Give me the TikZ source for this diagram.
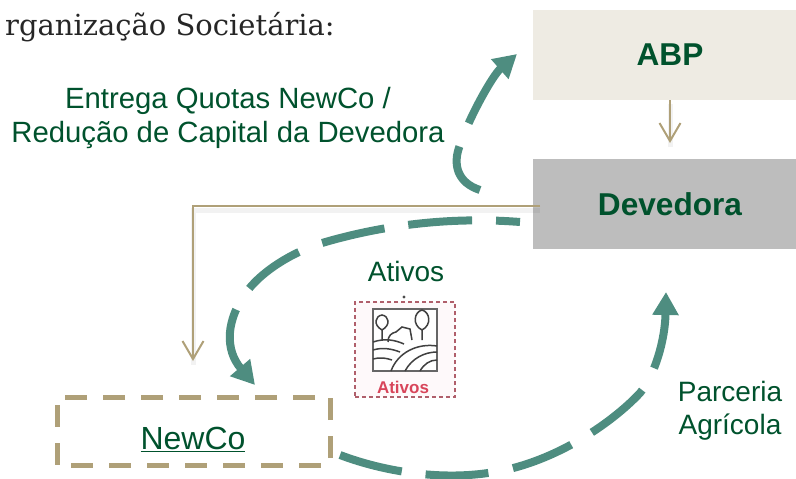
\documentclass[tikz,border=0pt]{standalone}
\usepackage{fontspec}
\setmainfont{Liberation Sans}
\newfontfamily\titlefont{DejaVu Serif}
\usetikzlibrary{arrows.meta}
\definecolor{tealarc}{HTML}{4E8D80}
\definecolor{tanline}{HTML}{AFA078}
\definecolor{darkgreen}{HTML}{00522D}
\definecolor{abpfill}{HTML}{EEEBE3}
\definecolor{devfill}{HTML}{BDBDBD}
\definecolor{iconred}{HTML}{D8455A}
\begin{document}
\begin{tikzpicture}
			[x=1pt,y=-1pt,
			 box/.style={minimum width=263pt,minimum height=90pt,inner sep=0,font=\fontsize{31.6}{36}\selectfont\bfseries,text=darkgreen},
			 textlabel/.style={inner sep=0,align=center,text=darkgreen,font=\fontsize{29.3}{34}\selectfont},
			 flow/.style={draw=tealarc,line width=8pt,-{Triangle[length=23pt,width=25pt]}},
			 thin tan/.style={draw=tanline,line width=2pt,-{Straight Barb[length=18pt,width=21pt]},
			   preaction={draw=black,opacity=0.05,line width=5pt,-,transform canvas={yshift=-4pt}}},
			 icon line/.style={draw=black!75,line width=1.5pt}]
			\useasboundingbox (0,0) rectangle (796,479);
			\node (title) [anchor=west,inner sep=0,font=\titlefont\fontsize{29}{34}\selectfont,text=black!85] at (5,27) {rganização Societária:};
			\node (abp) [box,fill=abpfill] at (664.5,55) {\hspace*{11pt}ABP};
			\node (devedora) [box,fill=devfill] at (664.5,204) {\hspace*{11pt}Devedora};
			\node (newco) [minimum width=273pt,minimum height=68pt,inner sep=0,draw=tanline,line width=5pt,dash pattern=on 22pt off 16pt,dash phase=24pt] at (193.5,431) {};
			\node (newcotext) [textlabel,font=\fontsize{32}{36}\selectfont] at (193,439) {\underline{NewCo}};
			\node (entrega) [textlabel] at (228,118) {Entrega Quotas NewCo /\\Redução de Capital da Devedora};
			\node (ativos) [textlabel,font=\fontsize{28}{33}\selectfont] at (406,271) {Ativos};
			\node (parceria) [textlabel,font=\fontsize{28}{33}\selectfont] at (730,411) {Parceria\\Agrícola};

			\coordinate (a0) at (520,222);
			\coordinate (a1) at (255,385);
			\coordinate (b0) at (340,455);
			\coordinate (b1) at (666,292);
			\coordinate (c0) at (480,190);
			\coordinate (c1) at (517,54);
			\coordinate (t0) at (540,206);
			\coordinate (t1) at (193,361);
			\coordinate (t2) at (670,143);

			\draw [thin tan] (abp.south -| t2) -- (t2);
			\draw [thin tan] (t0) -- (193,206) -- (t1);
			\draw [flow,dash pattern=on 24pt off 24pt on 64pt off 24pt on 64pt off 25pt on 62pt off 25pt on 200pt] (a0) .. controls (470,218) and (400,220) .. (322,243) .. controls (290,253) and (262,272) .. (248,290) .. controls (225,320) and (225,350) .. (a1);
			\draw [flow,dash pattern=on 64pt off 24pt on 63pt off 25pt on 63pt off 24pt on 66pt off 25pt on 200pt] (b0) .. controls (385,472) and (440,480) .. (488,473) .. controls (550,465) and (610,425) .. (640,393) .. controls (655,375) and (665,340) .. (b1);
			\draw [flow,dash pattern=on 55pt off 25pt on 200pt] (c0) .. controls (458,183) and (452,165) .. (460,145) .. controls (468,120) and (492,76) .. (c1);

			% icon
			\node (iconbox) [minimum width=100pt,minimum height=95pt,inner sep=0,draw=iconred!55!gray,dash pattern=on 4pt off 3pt,line width=1.6pt,fill=iconred!3] at (405,349.5) {};
			\fill [black!70] (404,297) circle (1.6);
			\node (iconframe) [minimum width=64pt,minimum height=62pt,inner sep=0,draw=black!60,line width=1.6pt,fill=white] at (405,340) {};
			\node (icontext) [inner sep=0,text=iconred,font=\fontsize{17}{20}\selectfont\bfseries] at (403,387) {Ativos};
			\draw [icon line] (382,330) .. controls (373,325) and (375,316) .. (382,315) .. controls (389,316) and (391,325) .. (382,330) -- (382,340);
			\draw [icon line] (422,330) .. controls (412,325) and (414,312) .. (422,310) .. controls (430,312) and (432,325) .. (422,330) -- (422,340);
			\draw [icon line] (388,342) .. controls (388,335) and (392,333) .. (396,332) -- (402,327) -- (410,329) -- (412,340);
			\draw [icon line] (373,342) .. controls (385,338) and (395,340) .. (404,344);
			\draw [icon line] (373,350) .. controls (383,347) and (392,349) .. (400,352);
			\draw [icon line] (373,359) .. controls (380,357) and (386,358) .. (392,360);
			\draw [icon line] (391,371) .. controls (398,352) and (418,343) .. (437,346);
			\draw [icon line] (405,371) .. controls (412,358) and (425,352) .. (437,352);
			\draw [icon line] (420,371) .. controls (424,364) and (430,360) .. (437,360);
	  \end{tikzpicture}
\end{document}
